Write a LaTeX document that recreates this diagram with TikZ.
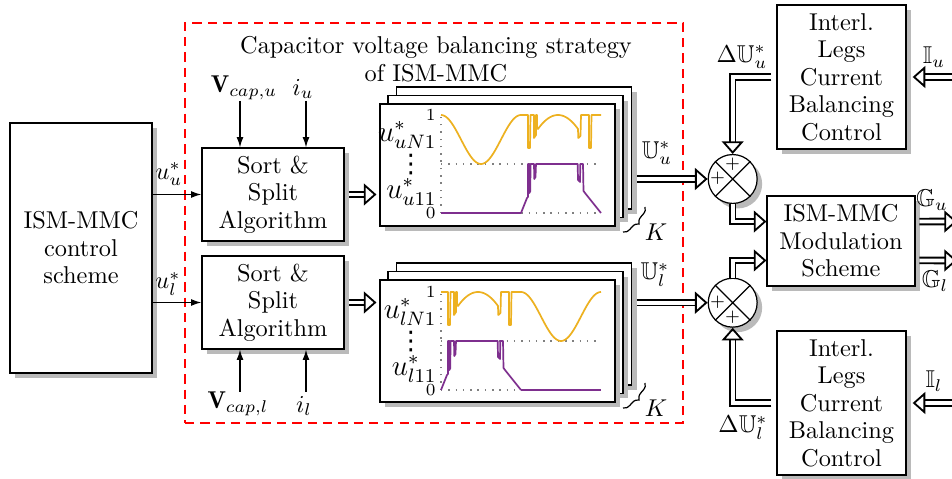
\documentclass[tikz,border=0pt]{standalone}
\usepackage{amssymb}
\usepackage{fontspec}
\newfontfamily\djv{DejaVu Sans}
\usetikzlibrary{arrows.meta,shadows,decorations.pathreplacing,calc}
\definecolor{wfo}{HTML}{EDB120}
\definecolor{wfp}{HTML}{7E2F8E}
\newcommand\wfOA{plot[domain=0:80,samples=61,smooth] (\x,{73.5+24.5*cos(4.5*\x)})}
\newcommand\wfOB{(0,98) -- (7,98) -- (7,65) -- (9,65) -- (9.5,98) -- (13,98) -- (13,75) -- (15,78) -- (15,98) -- (16,98) -- (16,85) -- plot[domain=17:57,samples=31,smooth] (\x,{98-14*((\x-37)/20)^2}) -- (57.3,75) -- (59.5,77) -- (60,98) -- (68,98) -- (68,65) -- (70,65) -- (70.5,98) -- (80,98)}
\newcommand\wfPA{(0,0) -- (80,0)}
\newcommand\wfPB{(0,0) -- (6,15) -- (7,16) -- (7,49) -- (8,49) -- (8.3,20) -- (9.3,22) -- (9.5,49) -- (13,49) -- (13.3,34) -- (14.5,36) -- (15,49) -- (56.7,49) -- (57,33) -- (59,31) -- (59.3,49) -- (62,49) -- (62.5,22) -- (64,20) -- (80,0)}
\newcommand\mydots{{\djv\fontsize{10.5}{11}\selectfont ⋮}}
\begin{document}
\begin{tikzpicture}[x=0.411pt,y=-0.411pt,
  font=\fontsize{10}{11.3}\selectfont,
  shd/.style={drop shadow={shadow xshift=2.06pt, shadow yshift=-2.06pt, fill=black!27, opacity=1}},
  blk/.style={draw, line width=0.5pt, fill=white, inner sep=0pt, align=center, shd},
  panel/.style={blk, minimum width=96.6pt, minimum height=50.1pt},
  sig/.style={line width=0.5pt, -{Latex[length=4.2pt,width=2.8pt]}},
  dbl/.style={double, double distance=1.6pt, line width=0.75pt, -{Triangle[open, length=5.2pt, width=9pt]}},
  dotl/.style={gray, line width=0.6pt, dash pattern=on 0.6pt off 2.4pt},
  wl/.style={line width=0.7pt, line join=round},
  lbl/.style={inner sep=0pt}]
\useasboundingbox (0,0) rectangle (952,479);

% dashed frame and title
\node[draw=red, line width=0.45pt, dash pattern=on 3.8pt off 2.5pt, minimum width=204.7pt, minimum height=164.4pt, inner sep=0pt] (frame) at (434,223) {};
\node[align=center, lbl] (title) at (436,59) {Capacitor voltage balancing strategy\\of ISM-MMC};

% left box and sort boxes
\node[blk, minimum width=58.4pt, minimum height=102.8pt] (ism) at (81,248) {ISM-MMC\\control\\scheme};
\node[blk, minimum width=58.4pt, minimum height=38.2pt] (sU) at (273,194.5) {Sort \&\\Split\\Algorithm};
\node[blk, minimum width=58.4pt, minimum height=38.2pt] (sL) at (273,302.5) {Sort \&\\Split\\Algorithm};

\draw[sig] (sU.west -| ism.east) -- (sU.west);
\draw[sig] (sL.west -| ism.east) -- (sL.west);
\node[lbl] (uuL) at (169,174) {$u_u^*$};
\node[lbl] (ulL) at (168,284) {$u_l^*$};

% inputs
\coordinate (vu) at (240,101);
\coordinate (iu) at (306,101);
\coordinate (vl) at (240,392);
\coordinate (il) at (306,392);
\node[lbl] (vuL) at (244,88) {$\mathbf{V}_{cap,u}$};
\node[lbl] (iuL) at (303,89) {$i_u$};
\node[lbl] (vlL) at (238,404) {$\mathbf{V}_{cap,l}$};
\node[lbl] (ilL) at (304,406) {$i_l$};
\draw[sig] (vu) -- (vu |- sU.north);
\draw[sig] (iu) -- (iu |- sU.north);
\draw[sig] (vl) -- (vl |- sL.south);
\draw[sig] (il) -- (il |- sL.south);

% upper stack
\node[panel] (uB) at (514,148) {};
\node[panel] (uM) at (505.5,156.5) {};
\node[panel] (uF) at (497.5,165) {};
\begin{scope}[shift={(441,213)}, yscale=-1]
  \draw[dotl] (0,0) -- (160,0) (0,49) -- (160,49) (0,0) -- (0,98);
  \draw[wfo, wl] \wfOA;
  \draw[wfp, wl] \wfPA;
  \begin{scope}[shift={(80,0)}]
    \draw[wfo, wl] \wfOB;
    \draw[wfp, wl] \wfPB;
  \end{scope}
  \node[lbl, anchor=east, font=\scriptsize] (uT1) at (-5,98) {1};
  \node[lbl, anchor=east, font=\scriptsize] (uT0) at (-5,0) {0};
  \node[lbl, anchor=east, font=\large] (uN) at (-4,78) {$u^*_{uN1}$};
  \node[lbl, anchor=east, font=\large] (u1) at (-4,21) {$u^*_{u11}$};
  \node[lbl] (uD) at (-30,48) {\mydots};
\end{scope}
\draw[decorate, decoration={brace, amplitude=2.8pt}, line width=0.5pt] (645,207) -- (623,232);
\node[lbl] (uK) at (656,232) {$K$};

% lower stack
\node[panel] (lB) at (514,324) {};
\node[panel] (lM) at (505.5,332.5) {};
\node[panel] (lF) at (497.5,341) {};
\begin{scope}[shift={(441,390)}, yscale=-1]
  \draw[dotl] (0,0) -- (160,0) (0,49) -- (160,49) (0,0) -- (0,98);
  \draw[wfo, wl] \wfOB;
  \draw[wfp, wl] \wfPB;
  \begin{scope}[shift={(80,0)}]
    \draw[wfo, wl] \wfOA;
    \draw[wfp, wl] \wfPA;
  \end{scope}
  \node[lbl, anchor=east, font=\scriptsize] (lT1) at (-5,98) {1};
  \node[lbl, anchor=east, font=\scriptsize] (lT0) at (-5,0) {0};
  \node[lbl, anchor=east, font=\large] (lN) at (-4,78) {$u^*_{lN1}$};
  \node[lbl, anchor=east, font=\large] (l1) at (-4,21) {$u^*_{l11}$};
  \node[lbl] (lD) at (-30,48) {\mydots};
\end{scope}
\draw[decorate, decoration={brace, amplitude=2.8pt}, line width=0.5pt] (645,383) -- (623,408);
\node[lbl] (lK) at (656,408) {$K$};

% sort -> stacks
\draw[dbl, shorten <=1.6pt, shorten >=1.2pt] (sU.east) -- (sU.east -| uF.west);
\draw[dbl, shorten <=1.6pt, shorten >=1.2pt] (sL.east) -- (sL.east -| lF.west);

% summing junctions
\node[draw, circle, fill=white, line width=0.5pt, minimum size=20.1pt, inner sep=0pt, shd] (cU) at (732.7,179) {};
\draw[line width=0.5pt] (cU.north west) -- (cU.south east) (cU.north east) -- (cU.south west);
\node[lbl, font=\scriptsize] (cUp1) at (732.7,164) {$+$};
\node[lbl, font=\scriptsize] (cUp2) at (717.5,178) {$+$};
\node[draw, circle, fill=white, line width=0.5pt, minimum size=20.1pt, inner sep=0pt, shd] (cL) at (732.7,302.7) {};
\draw[line width=0.5pt] (cL.north west) -- (cL.south east) (cL.north east) -- (cL.south west);
\node[lbl, font=\scriptsize] (cLp1) at (717.5,302.7) {$+$};
\node[lbl, font=\scriptsize] (cLp2) at (732.7,317.5) {$+$};

\draw[dbl, shorten <=1.9pt] (uB.east |- cU.west) -- (cU.west);
\draw[dbl, shorten <=1.9pt] (lB.east |- cL.west) -- (cL.west);
\node[lbl] (UuL) at (657,153) {$\mathbb{U}_u^*$};
\node[lbl] (UlL) at (655,275) {$\mathbb{U}_l^*$};

% right boxes
\node[blk, minimum width=53pt, minimum height=59.2pt] (iU) at (841.5,77) {Interl.\\Legs\\Current\\Balancing\\Control};
\node[blk, minimum width=53pt, minimum height=59.2pt] (iL) at (841.5,403) {Interl.\\Legs\\Current\\Balancing\\Control};
\node[blk, minimum width=60.8pt, minimum height=37pt] (mod) at (841,241) {ISM-MMC\\Modulation\\Scheme};

\draw[dbl, shorten <=2.1pt] (iU.west) -| (cU.north);
\draw[dbl, shorten <=2.1pt] (iL.west) -| (cL.south);
\node[lbl] (dUuL) at (742,57) {$\Delta\mathbb{U}_u^*$};
\node[lbl] (dUlL) at (743,428) {$\Delta\mathbb{U}_l^*$};

\draw[dbl] (cU.south) |- ([yshift=8pt]mod.west);
\draw[dbl] (cL.north) |- ([yshift=-8pt]mod.west);

\coordinate (Iu) at (966,77);
\coordinate (Il) at (966,403);
\draw[dbl, shorten >=2.5pt] (Iu) -- (iU.east);
\draw[dbl, shorten >=2.5pt] (Il) -- (iL.east);
\node[lbl] (IuL) at (934,57) {$\mathbb{I}_u$};
\node[lbl] (IlL) at (934,381) {$\mathbb{I}_l$};

\coordinate (Gu) at (957,221.5);
\coordinate (Gl) at (957,260.5);
\draw[dbl, shorten <=1.6pt] ([yshift=8pt]mod.east) -- (Gu);
\draw[dbl, shorten <=1.6pt] ([yshift=-8pt]mod.east) -- (Gl);
\node[lbl] (GuL) at (932,200) {$\mathbb{G}_u$};
\node[lbl] (GlL) at (935,281) {$\mathbb{G}_l$};
\end{tikzpicture}
\end{document}
